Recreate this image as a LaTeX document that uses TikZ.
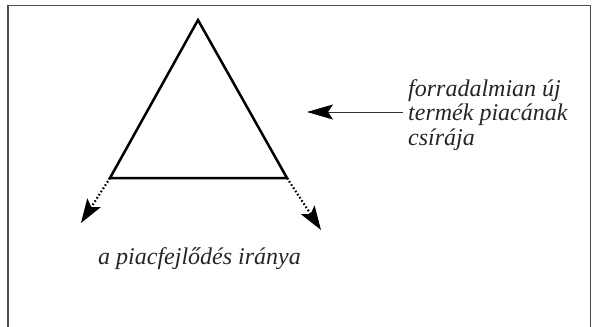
\documentclass[tikz,border=0pt]{standalone}
\usepackage{fontspec}
\setmainfont{Liberation Serif}
\usetikzlibrary{arrows.meta}
\begin{document}
\begin{tikzpicture}[x=1pt,y=-1pt,
  frame/.style={draw=black!70,line width=1.4pt},
  tri/.style={draw=black,line width=2.5pt,line join=miter},
  dotarrow/.style={line width=2.2pt,dash pattern=on 1.6pt off 2.2pt,
    -{Stealth[length=24pt,width=16pt,inset=5pt,sep=0pt]}},
  ptr/.style={line width=1pt,black!80,{Stealth[length=26pt,width=15pt,inset=5pt,black]}-},
  lbl/.style={font=\fontsize{24}{24.5}\selectfont\itshape,inner sep=0pt,text=black!85}]
\useasboundingbox (0,0) rectangle (593,326);
\draw[frame] (8,330) -- (8,5.5) -- (590.5,5.5) -- (590.5,330);
\coordinate (apex) at (198,20);
\coordinate (bl) at (110,178);
\coordinate (br) at (287,178);
\draw[tri] (apex) -- (br) -- (bl) -- cycle;
\coordinate (tl) at (81,223);
\coordinate (tr) at (321,230);
\draw[dotarrow] (bl) -- (tl);
\draw[dotarrow] (br) -- (tr);
\node[lbl,anchor=base west,align=left] (germ) at (408,145) {forradalmian új\\termék piacának\\csírája};
\coordinate (ptip) at (307,112);
\coordinate (pend) at (403,112);
\draw[ptr] (ptip) -- (pend);
\node[lbl,anchor=base west] (dir) at (98,264) {a piacfejlődés iránya};
\end{tikzpicture}
\end{document}
